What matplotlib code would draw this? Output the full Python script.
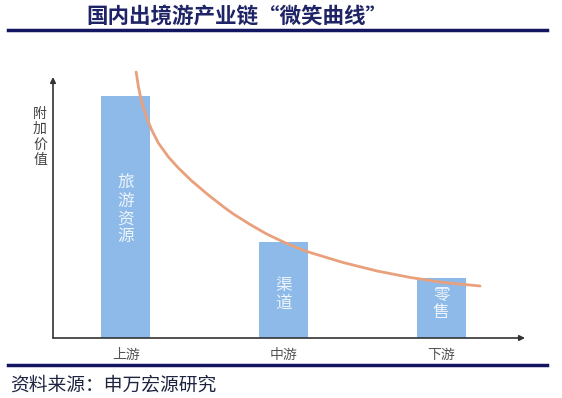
import matplotlib
matplotlib.use("Agg")
import matplotlib.pyplot as plt
from matplotlib.lines import Line2D

plt.rcParams['font.family'] = ['Noto Sans CJK SC', 'DejaVu Sans']

# data
categories = ["上游", "中游", "下游"]
bar_values = [242, 96, 60]
bar_labels = ["旅\n游\n资\n源", "渠\n道", "零\n售"]
# "smile curve" points (x in category units)
curve_x = [0.065, 0.080, 0.101, 0.133, 0.164, 0.206, 0.270, 0.333, 0.418,
           0.471, 0.523, 0.576, 0.629, 0.682, 0.788, 0.893, 0.999, 1.105,
           1.168, 1.377, 1.593, 1.804, 2.012, 2.246]
curve_y = [266, 251, 235, 220, 208, 195, 181, 170, 157,
           150, 143, 136.5, 130, 124, 113.5, 104, 96, 89,
           85.5, 75.5, 67, 60.5, 55.5, 52]

title = "国内出境游产业链“微笑曲线”"
ylabel = "附\n加\n价\n值"
source = "资料来源：申万宏源研究"

W, H = 562, 398
fig = plt.figure(figsize=(W / 100, H / 100), dpi=100)
ax = fig.add_axes([53 / W, (H - 338) / H, (525 - 53) / W, (338 - 77) / H])

x = list(range(len(categories)))
ax.bar(x, bar_values, width=0.31, color="#8DBAE8", zorder=1)
ax.plot(curve_x, curve_y, color="#E9A07C", lw=2, zorder=2, clip_on=False,
        solid_joinstyle="round", solid_capstyle="round")

# text inside bars
label_y = [128, 44, 34]
for xi, lab, ly in zip(x, bar_labels, label_y):
    ax.text(xi, ly, lab, ha="center", va="center", color="#EEF4FB",
            fontsize=12, linespacing=1.05, zorder=3)

ax.set_xlim(-0.462, 2.531)
ax.set_ylim(0, 261)
for s in ax.spines.values():
    s.set_visible(False)
ax.set_xticks([])
ax.set_yticks([])

# axes with arrows
ax.annotate("", xy=(0, 1), xytext=(0, 0), xycoords="axes fraction",
            arrowprops=dict(arrowstyle="-|>", color="#333333", lw=1.2,
                            mutation_scale=8, shrinkA=0, shrinkB=0))
ax.annotate("", xy=(1, 0), xytext=(0, 0), xycoords="axes fraction",
            arrowprops=dict(arrowstyle="-|>", color="#333333", lw=1.2,
                            mutation_scale=8, shrinkA=0, shrinkB=0))

# category labels under the axis
for xi, c in zip(x, categories):
    ax.text(xi, -17, c, ha="center", va="center", fontsize=10, color="#555555")

fig.text(40 / W, 1 - 137 / H, ylabel, ha="center", va="center", fontsize=10,
         color="#444444", linespacing=1.15)

# header and footer
fig.text(237 / W, 1 - 16 / H, title, ha="center", va="center", fontsize=15.5,
         fontweight="bold", color="#1F2466")
fig.add_artist(Line2D([8 / W, 547 / W], [1 - 30 / H, 1 - 30 / H], color="#121560", lw=2.5))
fig.add_artist(Line2D([8 / W, 547 / W], [1 - 365 / H, 1 - 365 / H], color="#121560", lw=2.5))
fig.text(10 / W, 1 - 385 / H, source, ha="left", va="center", fontsize=13.5,
         color="#1E2340")

fig.savefig("out.png", dpi=100)
